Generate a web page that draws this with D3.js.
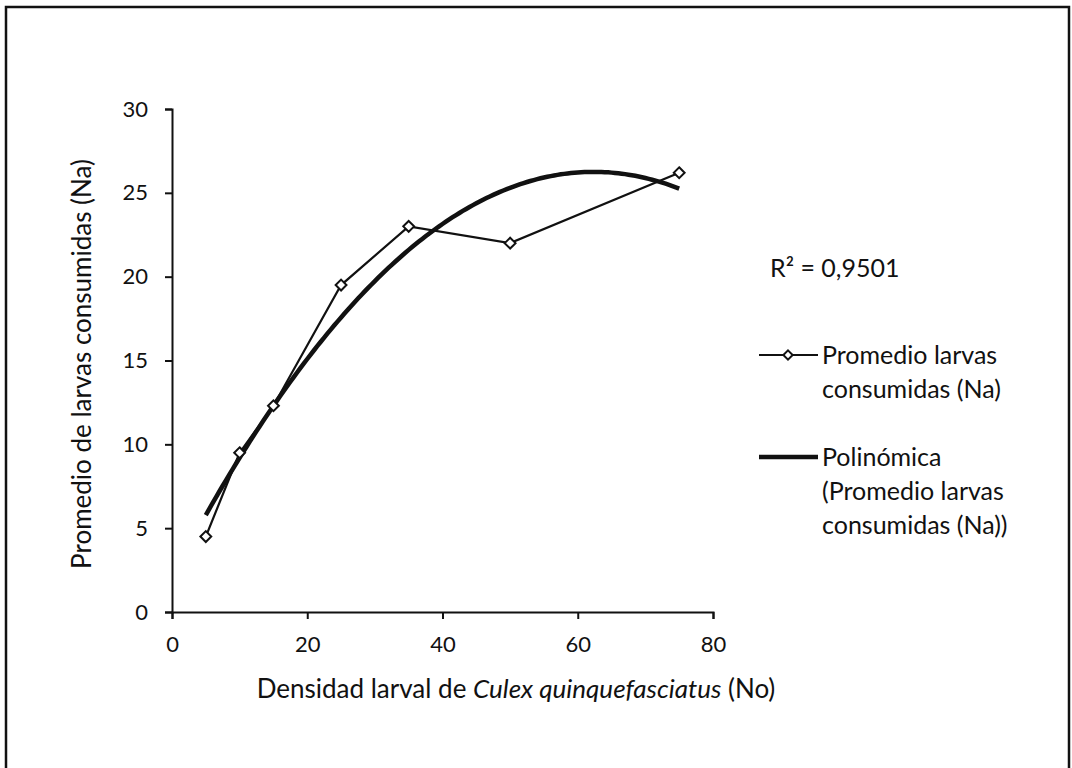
<!DOCTYPE html>
<html>
<head>
  <meta charset="UTF-8" />
  <script src="https://d3js.org/d3.v7.min.js"></script>
  <style>
    body { margin: 0; background: #fff; }
    text { font-family: Lato, "Open Sans", sans-serif; fill: #111; }
  </style>
</head>
<body>
<div id="chart"></div>
<script>
  // data
  const densidad = [5, 10, 15, 25, 35, 50, 75];
  const promedio = [4.5, 9.5, 12.3, 19.5, 23, 22, 26.2];
  const xTicks = [0, 20, 40, 60, 80];
  const yTicks = [0, 5, 10, 15, 20, 25, 30];
  const r2Label = "R² = 0,9501";

  const W = 1072, H = 768;
  const svg = d3.select("#chart").append("svg")
    .attr("width", W).attr("height", H);

  // outer frame (bottom edge is cut off in the scan)
  svg.append("path")
    .attr("d", "M6,768 V7 H1069 V768")
    .attr("fill", "none").attr("stroke", "#111").attr("stroke-width", 2.5);

  const x = d3.scaleLinear().domain([0, 80]).range([172, 713]);
  const y = d3.scaleLinear().domain([0, 30]).range([612, 109]);

  // axes
  const xAxis = d3.axisBottom(x).tickValues(xTicks).tickSize(7).tickPadding(17);
  const yAxis = d3.axisLeft(y).tickValues(yTicks).tickSize(7).tickPadding(17);

  const gx = svg.append("g").attr("transform", "translate(0,612)").call(xAxis);
  const gy = svg.append("g").attr("transform", "translate(172,0)").call(yAxis);
  [gx, gy].forEach(g => {
    g.select(".domain").attr("stroke", "#111").attr("stroke-width", 2);
    g.selectAll(".tick line").attr("stroke", "#111").attr("stroke-width", 2);
    g.selectAll(".tick text").style("font-size", "22px").attr("fill", "#111");
  });

  // quadratic least squares fit (Excel "Polinómica" trendline)
  function polyfit2(xs, ys) {
    let n = xs.length, sx = 0, sx2 = 0, sx3 = 0, sx4 = 0, sy = 0, sxy = 0, sx2y = 0;
    for (let i = 0; i < n; i++) {
      const a = xs[i], b = ys[i];
      sx += a; sx2 += a * a; sx3 += a ** 3; sx4 += a ** 4;
      sy += b; sxy += a * b; sx2y += a * a * b;
    }
    const M = [[n, sx, sx2, sy], [sx, sx2, sx3, sxy], [sx2, sx3, sx4, sx2y]];
    for (let i = 0; i < 3; i++) {
      for (let k = i + 1; k < 3; k++) {
        const f = M[k][i] / M[i][i];
        for (let j = i; j < 4; j++) M[k][j] -= f * M[i][j];
      }
    }
    const c = [0, 0, 0];
    for (let i = 2; i >= 0; i--) {
      let s = M[i][3];
      for (let j = i + 1; j < 3; j++) s -= M[i][j] * c[j];
      c[i] = s / M[i][i];
    }
    return c;
  }
  const coef = polyfit2(densidad, promedio);
  const fit = v => coef[0] + coef[1] * v + coef[2] * v * v;
  const xs = d3.range(densidad[0], densidad[densidad.length - 1] + 0.01, 0.5);

  const line = d3.line().x(d => x(d[0])).y(d => y(d[1]));

  // data line
  svg.append("path")
    .datum(densidad.map((d, i) => [d, promedio[i]]))
    .attr("d", line)
    .attr("fill", "none").attr("stroke", "#111").attr("stroke-width", 2.2);

  // trendline
  svg.append("path")
    .datum(xs.map(v => [v, fit(v)]))
    .attr("d", line)
    .attr("fill", "none").attr("stroke", "#111").attr("stroke-width", 4.5);

  const diamond = d3.symbol().type(d3.symbolDiamond2).size(75);

  svg.selectAll(".pt")
    .data(densidad.map((d, i) => [d, promedio[i]]))
    .enter().append("path")
    .attr("class", "pt")
    .attr("d", diamond)
    .attr("transform", d => `translate(${x(d[0])},${y(d[1])})`)
    .attr("fill", "#fff").attr("stroke", "#111").attr("stroke-width", 2);

  // axis titles
  svg.append("text")
    .attr("transform", "translate(91,364) rotate(-90)")
    .attr("text-anchor", "middle")
    .style("font-size", "26px")
    .text("Promedio de larvas consumidas (Na)");

  const xt = svg.append("text")
    .attr("x", 516).attr("y", 698)
    .attr("text-anchor", "middle")
    .style("font-size", "26px");
  xt.append("tspan").text("Densidad larval de ");
  xt.append("tspan").style("font-style", "italic").text("Culex quinquefasciatus");
  xt.append("tspan").text(" (No)");

  // R² label
  svg.append("text")
    .attr("x", 770).attr("y", 277)
    .style("font-size", "25px")
    .text(r2Label);

  // legend
  const lg = svg.append("g");
  lg.append("line").attr("x1", 759).attr("x2", 818).attr("y1", 355).attr("y2", 355)
    .attr("stroke", "#111").attr("stroke-width", 2.2);
  lg.append("path").attr("d", diamond.size(55))
    .attr("transform", "translate(788,355)")
    .attr("fill", "#fff").attr("stroke", "#111").attr("stroke-width", 2);
  lg.append("line").attr("x1", 759).attr("x2", 818).attr("y1", 457).attr("y2", 457)
    .attr("stroke", "#111").attr("stroke-width", 4.5);

  const legendText = [
    [["Promedio larvas", 355], ["consumidas (Na)", 389]],
    [["Polinómica", 457], ["(Promedio larvas", 491], ["consumidas (Na))", 525]]
  ];
  legendText.flat().forEach(([t, yy]) => {
    lg.append("text").attr("x", 822).attr("y", yy).attr("dy", "0.35em")
      .style("font-size", "25px").text(t);
  });
</script>
</body>
</html>
